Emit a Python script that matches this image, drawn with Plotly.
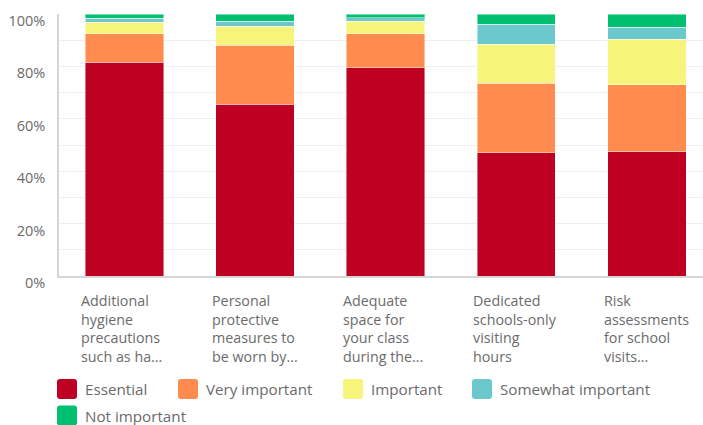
import plotly.graph_objects as go

# Survey question options (as displayed, wrapped and truncated)
categories = [
    "Additional<br>hygiene<br>precautions<br>such as ha...",
    "Personal<br>protective<br>measures to<br>be worn by...",
    "Adequate<br>space for<br>your class<br>during the...",
    "Dedicated<br>schools-only<br>visiting<br>hours",
    "Risk<br>assessments<br>for school<br>visits...",
]

# Share of respondents (%) per rating
essential = [81.5, 65.5, 79.5, 47.1, 47.5]
very_important = [11.0, 22.5, 13.0, 26.4, 25.5]
important = [4.4, 7.4, 4.8, 15.0, 17.4]
somewhat_important = [1.5, 1.9, 1.2, 7.5, 4.6]
not_important = [1.6, 2.7, 1.5, 4.0, 5.0]

series_names = ["Essential", "Very important", "Important", "Somewhat important", "Not important"]
series_values = [essential, very_important, important, somewhat_important, not_important]
series_colors = ["#BE0023", "#FF8B4F", "#F7F47B", "#6BC8CD", "#00BF6F"]

y_ticks = [0, 20, 40, 60, 80, 100]
y_tick_text = ["0%", "20%", "40%", "60%", "80%", "100%"]

W, H = 703, 425
M_L, M_R, M_T, M_B = 59, 0, 14, 149
PLOT_H = H - M_T - M_B
PLOT_W = W - M_L - M_R
TEXT = "#6b6b6b"
FONT = "Open Sans"


def px_x(px):
    return (px - M_L) / PLOT_W


def px_y(py):
    return (H - M_B - py) / PLOT_H


fig = go.Figure()
for name, vals, col in zip(series_names, series_values, series_colors):
    fig.add_trace(go.Bar(
        x=categories, y=vals, name=name, showlegend=False,
        marker=dict(color=col, line=dict(color="rgba(255,255,255,0.45)", width=1)),
        hoverinfo="name+y",
    ))

annotations = []
# Category labels under each bar, left aligned
for cat in categories:
    annotations.append(dict(
        x=cat, xref="x", y=0, yref="paper", xanchor="left", yanchor="top",
        xshift=-45, yshift=-13, text=cat, align="left", showarrow=False,
        font=dict(family=FONT, size=14.3, color=TEXT),
    ))

# Custom legend: rounded swatches with labels
legend_x = [57, 178, 343, 472, 57]
legend_y = [389, 389, 389, 389, 415.5]
shapes = []
r, s = 3, 10
swatch = (f"M{-s + r},{-s} L{s - r},{-s} Q{s},{-s} {s},{-s + r} L{s},{s - r} Q{s},{s} {s - r},{s} "
          f"L{-s + r},{s} Q{-s},{s} {-s},{s - r} L{-s},{-s + r} Q{-s},{-s} {-s + r},{-s} Z")
for name, col, lx, ly in zip(series_names, series_colors, legend_x, legend_y):
    shapes.append(dict(
        type="path", xref="paper", yref="paper", xsizemode="pixel", ysizemode="pixel",
        xanchor=px_x(lx + s), yanchor=px_y(ly), path=swatch,
        fillcolor=col, line=dict(width=0),
    ))
    annotations.append(dict(
        x=px_x(lx + 2 * s + 6), y=px_y(ly), xref="paper", yref="paper",
        xanchor="left", yanchor="middle", text=name, showarrow=False,
        font=dict(family=FONT, size=15.2, color=TEXT),
    ))

fig.update_layout(
    width=W, height=H,
    margin=dict(l=M_L, r=M_R, t=M_T, b=M_B, pad=0),
    barmode="stack", bargap=0.4,
    plot_bgcolor="white", paper_bgcolor="white",
    font=dict(family=FONT, color=TEXT),
    xaxis=dict(
        range=[-0.5, 4.43], showticklabels=False, ticks="", showgrid=False,
        showline=True, linecolor="#d6d6d6", linewidth=1.5, zeroline=False,
    ),
    yaxis=dict(
        range=[0, 100], tickvals=y_ticks, ticktext=y_tick_text, ticks="",
        showgrid=False, zeroline=False,
        minor=dict(tickvals=[10, 20, 30, 40, 50, 60, 70, 80, 90], showgrid=True,
                   gridcolor="#eeeeee", gridwidth=1.2),
        showline=True, linecolor="#d6d6d6", linewidth=1.5,
        tickfont=dict(family=FONT, size=14.5, color=TEXT),
        ticklabelstandoff=9, ticklabelshift=7,
    ),
    annotations=annotations,
    shapes=shapes,
)

fig.write_html("out.html")
